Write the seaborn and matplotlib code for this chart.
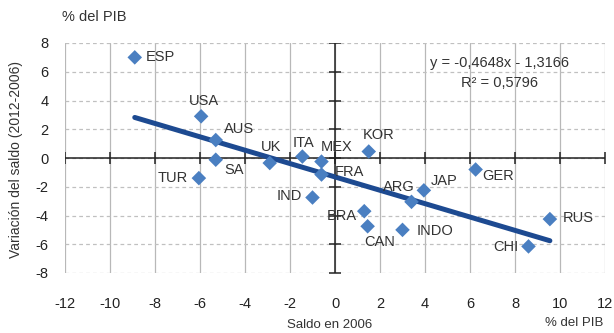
import numpy as np
import pandas as pd
import matplotlib
matplotlib.use("Agg")
import matplotlib.pyplot as plt
import seaborn as sns

# Data (saldo 2006 vs variación 2012-2006, % del PIB)
countries = ["ESP", "USA", "AUS", "SA", "UK", "ITA", "MEX", "KOR", "FRA", "TUR",
             "IND", "BRA", "CAN", "INDO", "ARG", "JAP", "GER", "RUS", "CHI"]
saldo_2006 = [-8.9, -5.95, -5.3, -5.3, -2.9, -1.45, -0.6, 1.5, -0.6, -6.05,
              -1.0, 1.3, 1.45, 3.0, 3.4, 3.95, 6.25, 9.55, 8.6]
variacion = [7.0, 2.9, 1.25, -0.12, -0.35, 0.1, -0.25, 0.45, -1.15, -1.4,
             -2.75, -3.7, -4.75, -5.0, -3.05, -2.25, -0.8, -4.25, -6.15]
# label offsets in pixels (dx, dy) and alignment
label_pos = {
    "ESP": (11, 0, "left"), "USA": (3, 15, "center"), "AUS": (8, 11, "left"),
    "SA": (9, -10, "left"), "UK": (1, 16, "center"), "ITA": (1, 14, "center"),
    "MEX": (15, 15, "center"), "KOR": (10, 17, "center"), "FRA": (13, 3, "left"),
    "TUR": (-11, 0, "right"), "IND": (-11, 2, "right"), "BRA": (-22, -5, "center"),
    "CAN": (-3, -16, "left"), "INDO": (14, -1, "left"), "ARG": (-13, 15, "center"),
    "JAP": (7, 9, "left"), "GER": (7, -7, "left"), "RUS": (13, 1, "left"),
    "CHI": (-10, -1, "right"),
}
slope, intercept, r2 = -0.4648, -1.3166, 0.5796

df = pd.DataFrame({"pais": countries, "x": saldo_2006, "y": variacion})

sns.set_style("white")
plt.rcParams["font.family"] = ["Liberation Sans", "DejaVu Sans"]
plt.rcParams["axes.unicode_minus"] = False
text_col = "#333333"

fig = plt.figure(figsize=(6.14, 3.33), dpi=100)
ax = fig.add_axes([65 / 614, 1 - 273 / 333, 540 / 614, 230 / 333])
ax.set_xlim(-12, 12)
ax.set_ylim(-8, 8)
xt = np.arange(-12, 13, 2)
yt = np.arange(-8, 9, 2)
ax.set_xticks(xt)
ax.set_yticks(yt)
for s in ax.spines.values():
    s.set_visible(False)

# grid: solid vertical, dashed horizontal
for v in xt:
    ax.axvline(v, color="#b8b8b8", lw=0.9, zorder=0)
for h in yt:
    ax.axhline(h, color="#c0c0c0", lw=0.9, ls=(0, (3, 2.5)), zorder=0)

# axes crossing at the origin with inout ticks
ax.axhline(0, color="#222222", lw=1.1, zorder=1)
ax.plot([0, 0], [-8, 8], color="#222222", lw=1.1, zorder=1)
ax.plot(xt, np.zeros_like(xt), ls="none", marker="|", ms=9, mew=1.1, color="#222222", zorder=1)
ax.plot(np.zeros_like(yt), yt, ls="none", marker="_", ms=9, mew=1.1, color="#222222", zorder=1)

ax.tick_params(axis="both", length=0, labelsize=10.5, labelcolor="#222222")
ax.tick_params(axis="x", pad=17)
ax.tick_params(axis="y", pad=12)

# trend line over the data range
xl = np.array([df.x.min(), df.x.max()])
sns.lineplot(x=xl, y=slope * xl + intercept, color="#1d4a91", lw=3.6, ax=ax, zorder=2)

sns.scatterplot(data=df, x="x", y="y", marker="D", s=55, color="#4a7fc1",
                edgecolor="none", ax=ax, zorder=3)

for _, r in df.iterrows():
    dx, dy, ha = label_pos[r.pais]
    ax.annotate(r.pais, (r.x, r.y), xytext=(dx, dy), textcoords="offset pixels",
                ha=ha, va="center", fontsize=10.5, color=text_col, zorder=4)

eq = f"y = {slope:.4f}x - {abs(intercept):.4f}".replace(".", ",")
ax.text(7.33, 6.6, eq, ha="center", va="center", fontsize=10.5, color=text_col)
ax.text(7.33, 5.25, f"R² = {r2:.4f}".replace(".", ","), ha="center", va="center",
        fontsize=10.5, color=text_col)

ax.set_xlabel("")
ax.set_ylabel("")
fig.text(62 / 614, 1 - 17 / 333, "% del PIB", ha="left", va="center", fontsize=10.5, color=text_col)
fig.text(16 / 614, 1 - 160 / 333, "Variación del saldo (2012-2006)", rotation=90,
         ha="center", va="center", fontsize=10, color=text_col)
fig.text(330 / 614, 1 - 325 / 333, "Saldo en 2006", ha="center", va="center", fontsize=9.5, color=text_col)
fig.text(603 / 614, 1 - 323 / 333, "% del PIB", ha="right", va="center", fontsize=9.5, color=text_col)

fig.savefig("out.png", dpi=100)
